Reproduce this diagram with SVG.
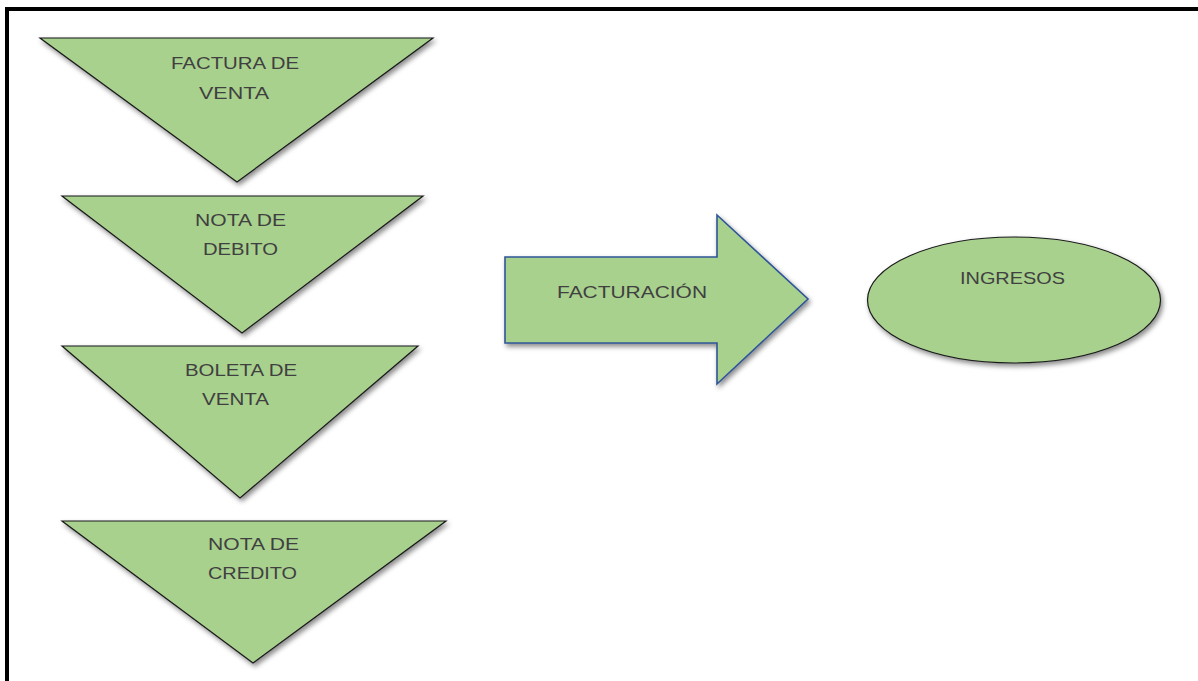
<svg xmlns="http://www.w3.org/2000/svg" width="1198" height="681" viewBox="0 0 1198 681">
<defs>
<filter id="sh" x="-10%" y="-10%" width="125%" height="130%">
<feDropShadow dx="2" dy="3" stdDeviation="2.5" flood-color="#000" flood-opacity="0.45"/>
</filter>
</defs>
<style>
.tri{fill:#A9D18E;stroke:#1a1a1a;stroke-width:1.2;filter:url(#sh)}
.arr{fill:#A9D18E;stroke:#2F5597;stroke-width:1.6;filter:url(#sh)}
.ell{fill:#A9D18E;stroke:#1a1a1a;stroke-width:1.2;filter:url(#sh)}
.t{font-family:"Liberation Sans",Arial,sans-serif;font-size:17px;fill:#404040}
</style>
<rect width="1198" height="681" fill="#fff"/>
<path d="M7,681 V9 H1198" fill="none" stroke="#000" stroke-width="4"/>
<g id="factura-venta">
<polygon class="tri" points="40,38 433,38 237,182"/>
<text class="t" x="171" y="69" textLength="128" lengthAdjust="spacingAndGlyphs">FACTURA DE</text>
<text class="t" x="199" y="99" textLength="70" lengthAdjust="spacingAndGlyphs">VENTA</text>
</g>
<g id="nota-debito">
<polygon class="tri" points="62,196 423,196 242,333"/>
<text class="t" x="195" y="226" textLength="91" lengthAdjust="spacingAndGlyphs">NOTA DE</text>
<text class="t" x="203" y="255" textLength="75" lengthAdjust="spacingAndGlyphs">DEBITO</text>
</g>
<g id="boleta-venta">
<polygon class="tri" points="62,346 418,346 240,498"/>
<text class="t" x="185" y="376" textLength="112" lengthAdjust="spacingAndGlyphs">BOLETA DE</text>
<text class="t" x="202" y="405" textLength="67" lengthAdjust="spacingAndGlyphs">VENTA</text>
</g>
<g id="nota-credito">
<polygon class="tri" points="62,521 446,521 253,663"/>
<text class="t" x="208" y="550" textLength="91" lengthAdjust="spacingAndGlyphs">NOTA DE</text>
<text class="t" x="208" y="579" textLength="89" lengthAdjust="spacingAndGlyphs">CREDITO</text>
</g>
<g id="connectors">
<g id="facturacion">
<polygon class="arr" points="505,257 717,257 717,215 808,299 717,384 717,343 505,343"/>
<text class="t" x="557" y="298" textLength="150" lengthAdjust="spacingAndGlyphs">FACTURACIÓN</text>
</g>
</g>
<g id="ingresos">
<ellipse class="ell" cx="1014" cy="300" rx="146.5" ry="63"/>
<text class="t" x="960" y="284" textLength="105" lengthAdjust="spacingAndGlyphs">INGRESOS</text>
</g>
</svg>
